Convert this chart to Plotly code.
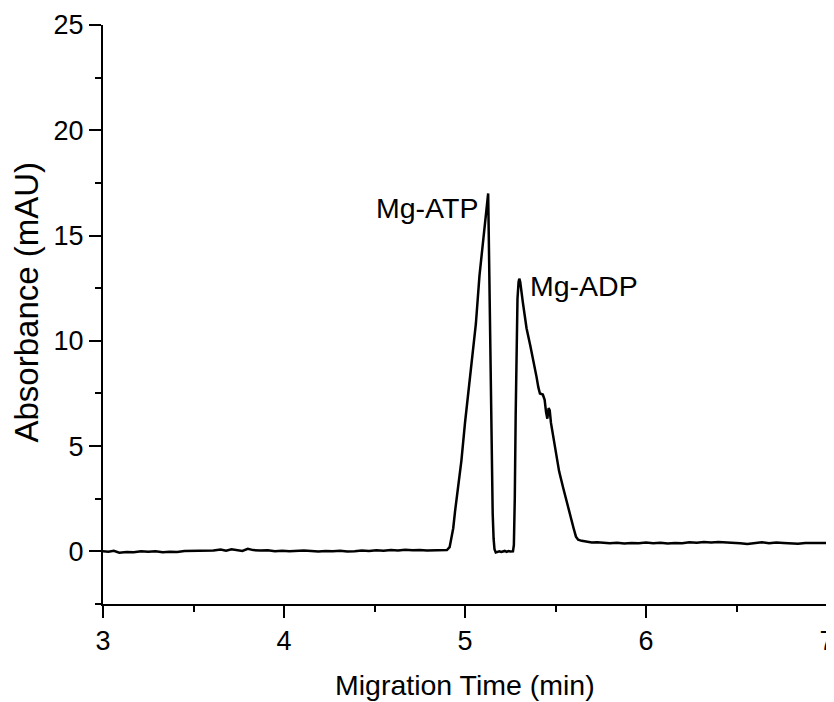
import plotly.graph_objects as go

# electropherogram trace (min, mAU)
time_min = [
    3.00, 3.03, 3.06, 3.09, 3.13, 3.17, 3.21, 3.25, 3.29, 3.33, 3.37, 3.41,
    3.45, 3.49, 3.53, 3.57, 3.61, 3.65, 3.68, 3.71, 3.74, 3.77, 3.80, 3.83,
    3.87, 3.91, 3.95, 3.99, 4.03, 4.07, 4.11, 4.15, 4.19, 4.23, 4.27, 4.31,
    4.35, 4.39, 4.43, 4.47, 4.51, 4.55, 4.59, 4.63, 4.67, 4.71, 4.75, 4.79,
    4.83, 4.87, 4.90,
    4.915, 4.925, 4.935, 4.945, 4.96, 4.98, 5.00, 5.02, 5.04, 5.06, 5.08,
    5.10, 5.115, 5.125, 5.128, 5.133, 5.138, 5.143, 5.148, 5.153, 5.158,
    5.163, 5.170, 5.18, 5.19, 5.20, 5.21, 5.22, 5.23, 5.24, 5.25, 5.265,
    5.270, 5.275, 5.280, 5.285, 5.290, 5.296, 5.300, 5.305, 5.31, 5.32,
    5.33, 5.34, 5.36, 5.38, 5.395, 5.405, 5.414, 5.43, 5.44, 5.448, 5.455,
    5.462, 5.468, 5.475, 5.488, 5.503, 5.52, 5.543, 5.56, 5.58, 5.60, 5.613,
    5.625, 5.645, 5.67, 5.70, 5.73, 5.76,
    5.80, 5.84, 5.88, 5.92, 5.96, 6.00, 6.04, 6.08, 6.12, 6.16, 6.20, 6.24,
    6.28, 6.32, 6.36, 6.40, 6.44, 6.48, 6.52, 6.56, 6.60, 6.64, 6.68, 6.72,
    6.76, 6.80, 6.84, 6.88, 6.92, 6.96, 7.00,
]
absorbance_mau = [
    0.00, -0.02, 0.03, -0.06, -0.03, -0.04, 0.01, -0.02, 0.00, -0.04, -0.02, -0.03,
    0.02, 0.03, 0.01, 0.05, 0.04, 0.09, 0.03, 0.10, 0.06, 0.02, 0.12, 0.06,
    0.04, 0.05, 0.01, 0.03, 0.00, 0.02, 0.04, 0.02, -0.01, 0.02, 0.00, 0.03,
    -0.01, 0.01, 0.04, 0.02, 0.05, 0.03, 0.06, 0.04, 0.08, 0.05, 0.07, 0.04,
    0.06, 0.05, 0.06,
    0.20, 0.60, 1.10, 1.90, 3.00, 4.30, 6.10, 7.70, 9.30, 10.80, 13.10,
    14.70, 15.90, 16.75, 17.00, 14.00, 10.50, 7.00, 4.00, 1.80, 0.60,
    0.10, -0.05, -0.04, 0.00, -0.03, -0.01, 0.02, -0.02, 0.01, -0.01, 0.00,
    0.30, 2.50, 6.50, 10.00, 12.00, 12.80, 12.95, 12.80, 12.40, 11.80,
    11.20, 10.60, 9.80, 9.00, 8.30, 7.80, 7.50, 7.45, 7.20, 6.60, 6.30,
    6.80, 6.70, 6.10, 5.45, 4.50, 3.80, 3.00, 2.40, 1.80, 1.10, 0.70,
    0.55, 0.50, 0.47, 0.42, 0.43, 0.40,
    0.38, 0.41, 0.37, 0.40, 0.38, 0.42, 0.39, 0.41, 0.37, 0.40, 0.39, 0.43,
    0.41, 0.45, 0.42, 0.44, 0.43, 0.41, 0.39, 0.35, 0.40, 0.43, 0.38, 0.42,
    0.40, 0.39, 0.36, 0.40, 0.41, 0.39, 0.40,
]

x_ticks = [3, 4, 5, 6, 7]
y_ticks = [0, 5, 10, 15, 20, 25]

peak_labels = ["Mg-ATP", "Mg-ADP"]
peak_label_x = [5.083, 5.350]
peak_label_y = [16.3, 12.6]

FONT = "Liberation Sans, Arial, sans-serif"

fig = go.Figure()
fig.add_trace(go.Scatter(
    x=time_min, y=absorbance_mau, mode="lines",
    line=dict(color="black", width=2.5), showlegend=False,
))

label_font = dict(size=28.5)
fig.add_annotation(x=peak_label_x[0], y=peak_label_y[0], text=peak_labels[0],
                   xanchor="right", yanchor="middle", showarrow=False, font=label_font)
fig.add_annotation(x=peak_label_x[1], y=peak_label_y[1], text=peak_labels[1],
                   xanchor="left", yanchor="middle", showarrow=False, font=label_font)

# axis titles placed by hand so the margins stay fixed
fig.add_annotation(text="Migration Time (min)", xref="paper", yref="paper",
                   x=0.5, y=0, yshift=-81, xanchor="center", yanchor="middle",
                   showarrow=False, font=dict(size=28.5))
fig.add_annotation(text="Absorbance (mAU)", xref="paper", yref="paper",
                   x=0, y=0.5, xshift=-77, yshift=12, xanchor="center", yanchor="middle",
                   textangle=-90, showarrow=False, font=dict(size=33))

axis_style = dict(
    showline=True, linecolor="black", linewidth=2,
    ticks="outside", ticklen=12, tickwidth=2, tickcolor="black",
    showgrid=False, zeroline=False, mirror=False, automargin=False,
    ticklabeloverflow="allow",
)

fig.update_xaxes(
    range=[3, 7], tickvals=x_ticks,
    minor=dict(ticks="outside", ticklen=6, tickwidth=2, tickcolor="black", dtick=0.5),
    **axis_style,
)
fig.update_yaxes(
    range=[-2.5, 25], tickvals=y_ticks,
    minor=dict(ticks="outside", ticklen=6, tickwidth=2, tickcolor="black", dtick=2.5),
    **axis_style,
)

# the page body adds an 8px margin, so the figure is 8px smaller each way
fig.update_layout(
    width=826, height=694,
    margin=dict(l=95, r=7, t=17, b=98),
    plot_bgcolor="white", paper_bgcolor="white",
    font=dict(family=FONT, size=27, color="black"),
)

fig.write_html("out.html")
